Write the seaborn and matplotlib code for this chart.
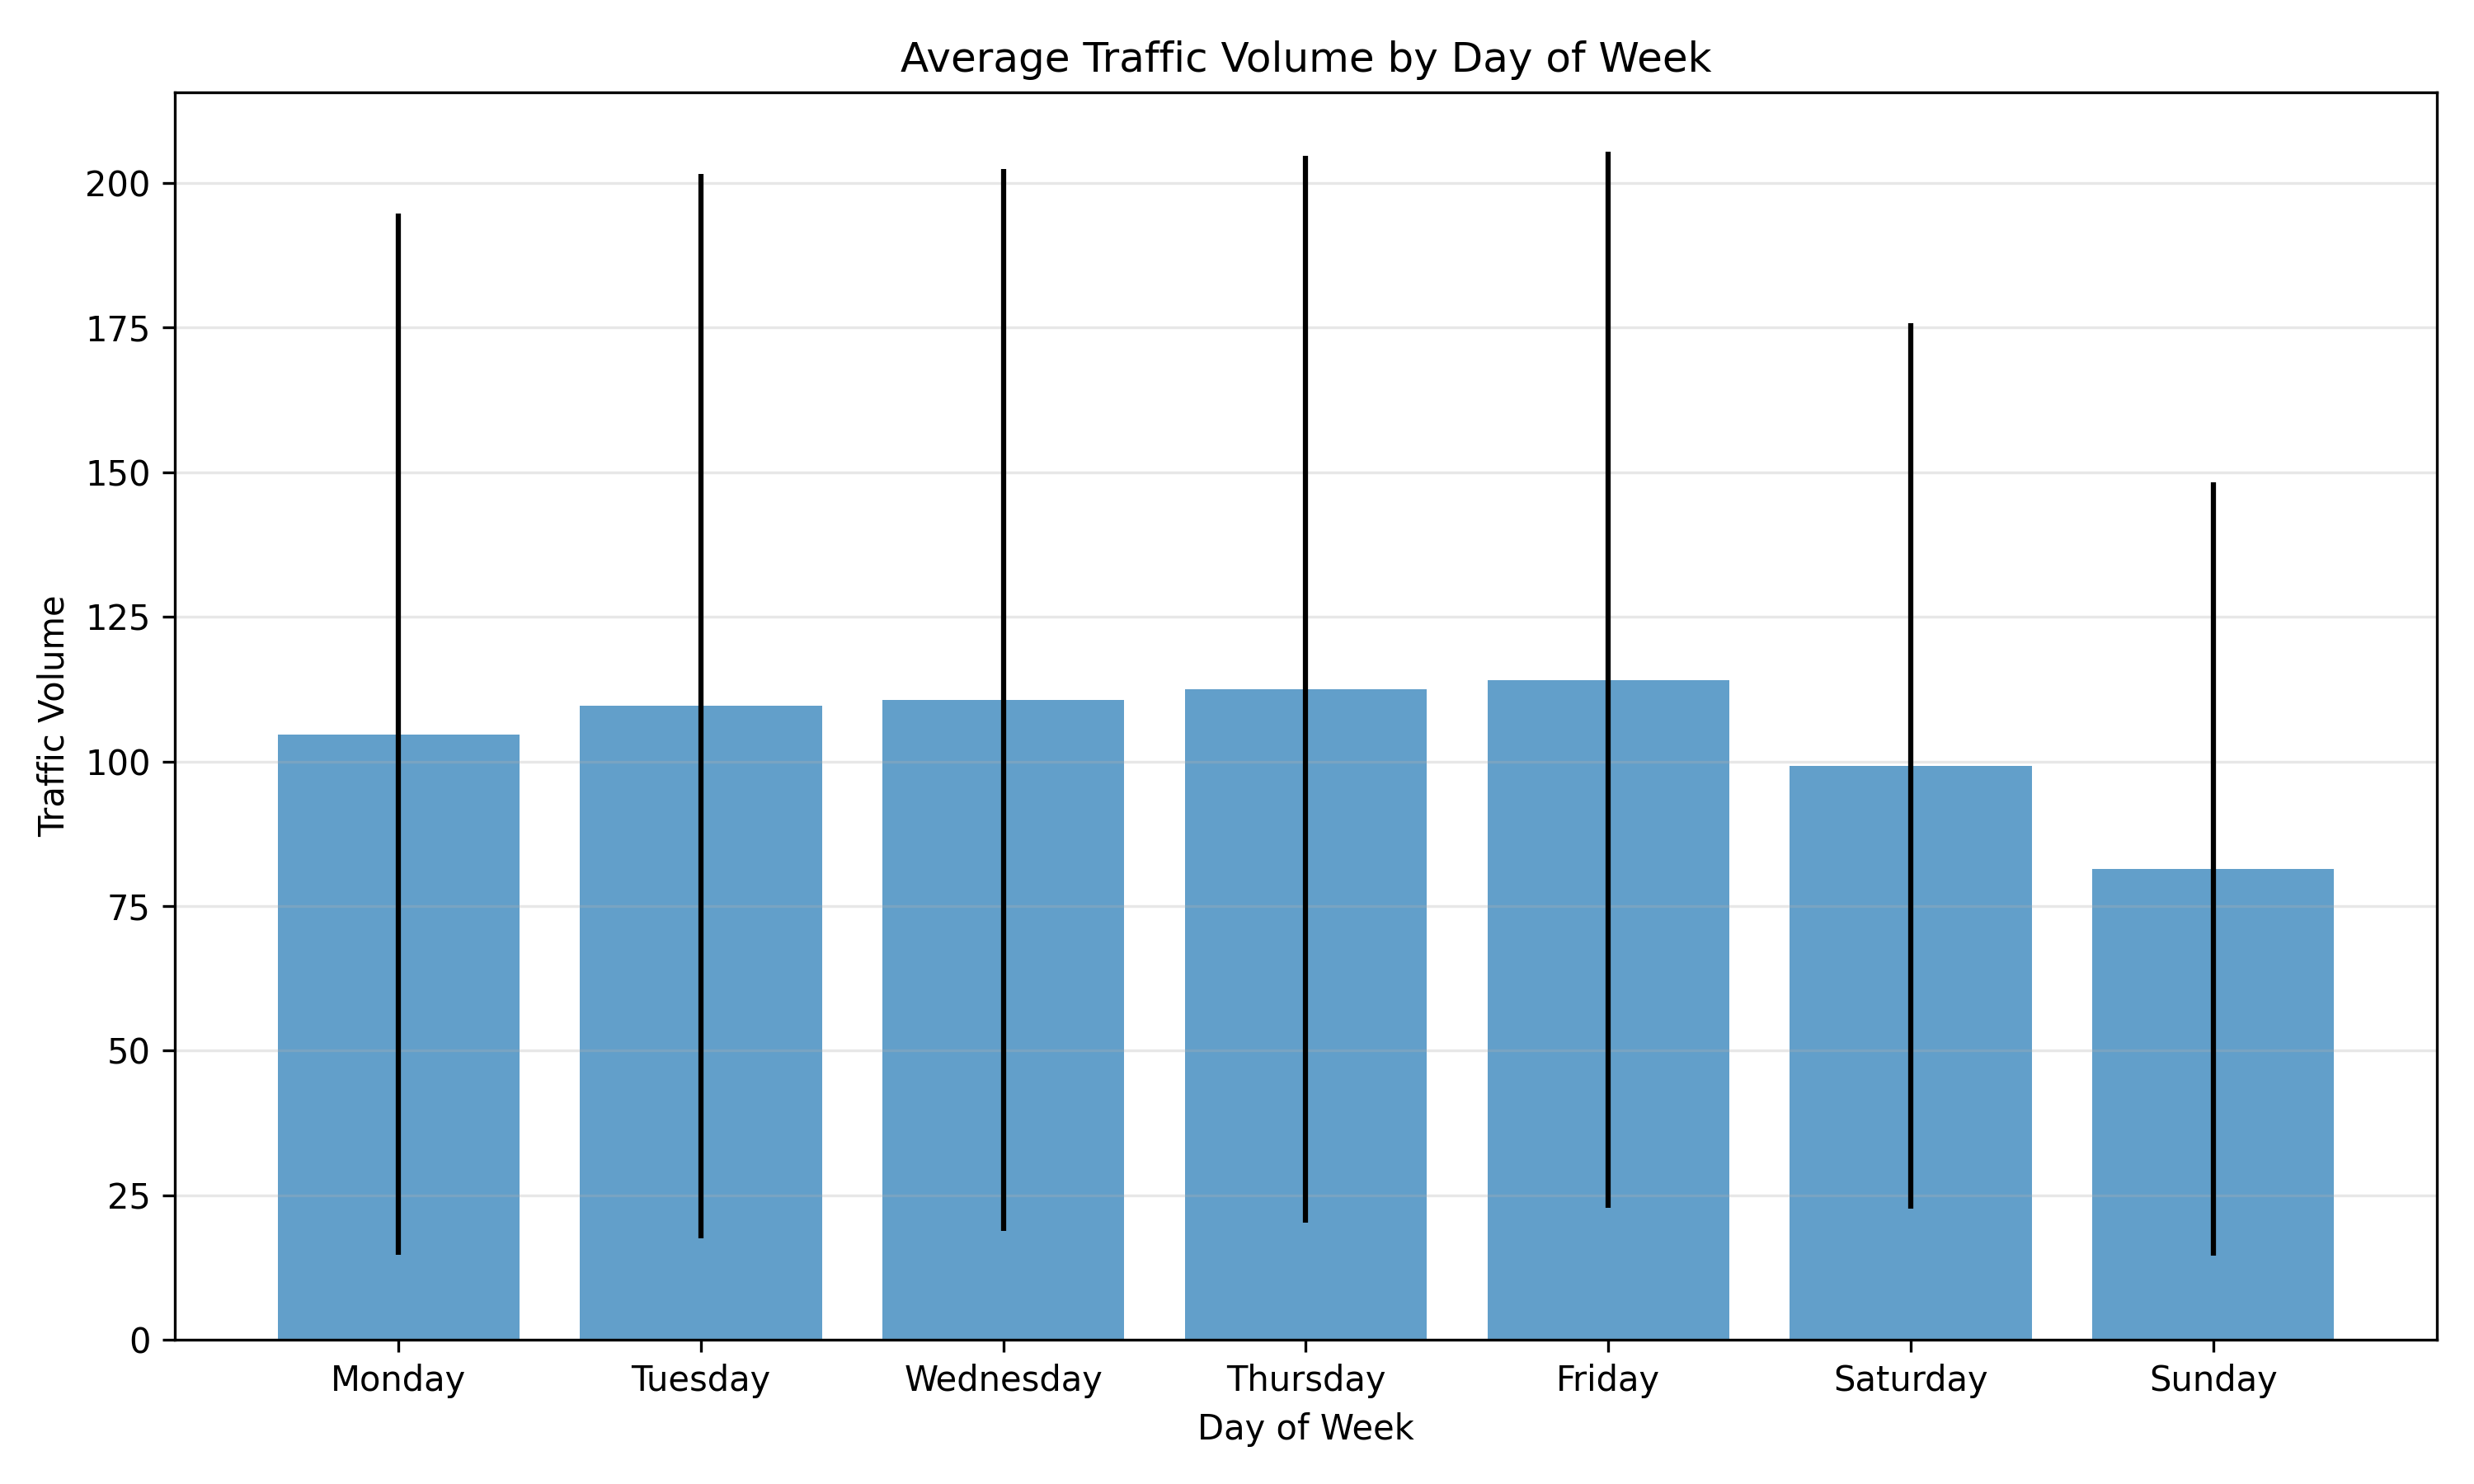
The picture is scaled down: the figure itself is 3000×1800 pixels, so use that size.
import numpy as np
import pandas as pd
import matplotlib
matplotlib.use("Agg")
import matplotlib.pyplot as plt
import seaborn as sns

# Values
days = ["Monday", "Tuesday", "Wednesday", "Thursday", "Friday", "Saturday", "Sunday"]
mean_volume = [104.7, 109.6, 110.6, 112.5, 114.1, 99.2, 81.4]
std_volume = [90.0, 92.0, 91.8, 92.2, 91.3, 76.5, 66.8]

df = pd.DataFrame({"day": days, "volume": mean_volume, "std": std_volume})

# plain matplotlib look (black text, default grey grid)
plt.style.use("default")
plt.rcParams["font.family"] = ["DejaVu Sans"]

fig, ax = plt.subplots(figsize=(10, 6))

sns.barplot(data=df, x="day", y="volume", order=days, color="#1f77b4",
            alpha=0.7, width=0.8, errorbar=None, saturation=1,
            linewidth=0, ax=ax)
ax.errorbar(x=np.arange(len(days)), y=df["volume"], yerr=df["std"],
            fmt="none", ecolor="black", elinewidth=1.5, capsize=0)

ax.set_title("Average Traffic Volume by Day of Week")
ax.set_xlabel("Day of Week")
ax.set_ylabel("Traffic Volume")
ax.grid(axis="y", alpha=0.3)

plt.tight_layout()
plt.savefig("out.png", dpi=300)
